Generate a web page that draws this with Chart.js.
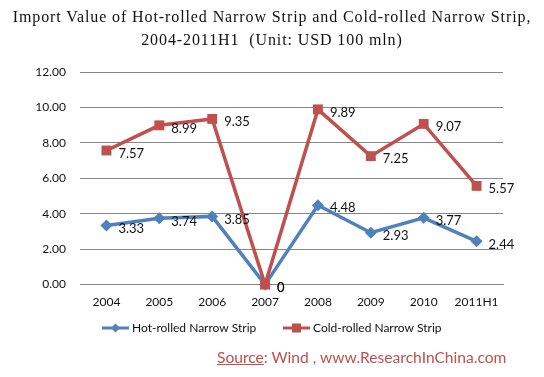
<!DOCTYPE html>
<html>
<head>
<meta charset="utf-8">
<script src="https://cdn.jsdelivr.net/npm/chart.js@4.4.0/dist/chart.umd.min.js"></script>
<style>
  body { margin: 0; background: #fff; }
  #wrap { position: relative; width: 544px; height: 377px; }
  #title { position: absolute; left: 0; top: 5px; width: 544px; text-align: center;
           font-family: "Liberation Serif", serif; font-size: 16px; letter-spacing: 0.9px;
           line-height: 23px; color: #111; }
  #source { position: absolute; left: 217px; top: 348px; font-family: Lato, "Open Sans", sans-serif;
            font-size: 15.6px; color: #c0504d; }
  #source span { text-decoration: underline; }
</style>
</head>
<body>
<div id="wrap">
  <canvas id="chart" width="544" height="377"></canvas>
  <div id="title">Import Value of Hot-rolled Narrow Strip and Cold-rolled Narrow Strip,<br>2004-2011H1&nbsp;&nbsp;(Unit: USD 100 mln)</div>
  <div id="source"><span>Source</span>: Wind , www.ResearchInChina.com</div>
</div>
<script>
// chart data
const categories = ['2004', '2005', '2006', '2007', '2008', '2009', '2010', '2011H1'];
const hotRolled = [3.33, 3.74, 3.85, 0, 4.48, 2.93, 3.77, 2.44];
const coldRolled = [7.57, 8.99, 9.35, 0, 9.89, 7.25, 9.07, 5.57];
const seriesNames = ['Hot-rolled Narrow Strip', 'Cold-rolled Narrow Strip'];

const blue = '#4f81bd';
const red = '#c0504d';

// value labels right of each point
const valueLabels = {
    id: 'valueLabels',
    afterDatasetsDraw(chart) {
        const ctx = chart.ctx;
        ctx.save();
        ctx.font = '13px Lato, "Open Sans", sans-serif';
        ctx.fillStyle = '#111';
        ctx.textBaseline = 'middle';
        chart.data.datasets.forEach((ds, i) => {
            chart.getDatasetMeta(i).data.forEach((pt, j) => {
                ctx.fillText(String(ds.data[j]), pt.x + 12, pt.y + 3);
            });
        });
        ctx.restore();
    }
};

// legend: line with marker in the middle
const lineLegend = {
    id: 'lineLegend',
    afterDraw(chart) {
        const ctx = chart.ctx;
        const y = 328;
        const starts = [102, 283];
        ctx.save();
        ctx.font = '12px Lato, "Open Sans", sans-serif';
        ctx.textBaseline = 'middle';
        chart.data.datasets.forEach((ds, i) => {
            const x = starts[i];
            ctx.strokeStyle = ds.borderColor;
            ctx.lineWidth = 3;
            ctx.beginPath();
            ctx.moveTo(x, y);
            ctx.lineTo(x + 27, y);
            ctx.stroke();
            ctx.fillStyle = ds.borderColor;
            if (ds.pointStyle === 'rect') {
                ctx.fillRect(x + 13.5 - 4.5, y - 4.5, 9, 9);
            } else {
                ctx.beginPath();
                ctx.moveTo(x + 13.5, y - 4.5);
                ctx.lineTo(x + 18, y);
                ctx.lineTo(x + 13.5, y + 4.5);
                ctx.lineTo(x + 9, y);
                ctx.closePath();
                ctx.fill();
            }
            ctx.fillStyle = '#111';
            ctx.fillText(ds.label, x + 30, y);
        });
        ctx.restore();
    }
};

const ctx = document.getElementById('chart').getContext('2d');
new Chart(ctx, {
    type: 'line',
    data: {
        labels: categories,
        datasets: [{
            label: seriesNames[0],
            data: hotRolled,
            borderColor: blue,
            backgroundColor: blue,
            borderWidth: 3.5,
            pointStyle: 'rectRot',
            pointRadius: 6,
            pointBorderWidth: 0,
            tension: 0,
            clip: false,
            order: 1
        }, {
            label: seriesNames[1],
            data: coldRolled,
            borderColor: red,
            backgroundColor: red,
            borderWidth: 3.5,
            pointStyle: 'rect',
            pointRadius: 7,
            pointBorderWidth: 0,
            tension: 0,
            clip: false,
            order: 0
        }]
    },
    options: {
        responsive: false,
        animation: false,
        layout: { padding: { top: 72, right: 41, bottom: 66, left: 0 } },
        plugins: {
            legend: { display: false },
            tooltip: { enabled: false }
        },
        scales: {
            x: {
                offset: true,
                grid: { display: false },
                border: { color: '#868686' },
                ticks: { color: '#111', font: { size: 12, family: 'Lato, "Open Sans", sans-serif' }, padding: 2 }
            },
            y: {
                min: 0,
                max: 12,
                afterFit: function(scale) { scale.width = 80; },
                border: { display: false },
                grid: { color: '#868686', drawTicks: false },
                ticks: {
                    stepSize: 2,
                    padding: 14,
                    color: '#111',
                    font: { size: 12, family: 'Lato, "Open Sans", sans-serif' },
                    callback: v => v.toFixed(2)
                }
            }
        }
    },
    plugins: [valueLabels, lineLegend]
});
</script>
</body>
</html>
